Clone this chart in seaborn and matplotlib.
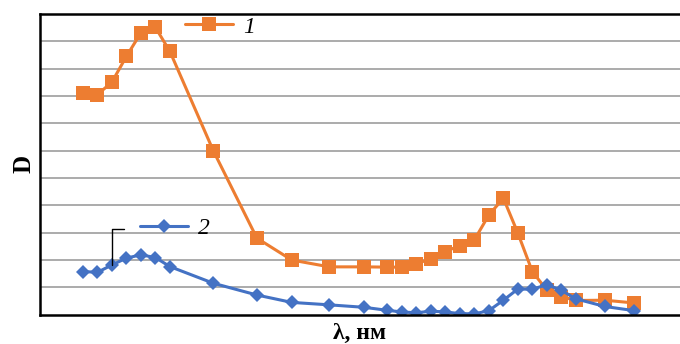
import matplotlib
matplotlib.use("Agg")
import matplotlib.pyplot as plt
import seaborn as sns
import pandas as pd

# wavelength, nm
wavelength = [400, 405, 410, 415, 420, 425, 430, 445, 460, 472, 485, 497, 505, 510,
              515, 520, 525, 530, 535, 540, 545, 550, 555, 560, 565, 570, 580, 590]
d_curve1 = [8.11, 8.05, 8.51, 9.45, 10.31, 10.51, 9.63, 5.99, 2.80, 2.00, 1.75, 1.75, 1.74, 1.74,
            1.86, 2.05, 2.31, 2.53, 2.74, 3.65, 4.26, 2.98, 1.57, 0.90, 0.66, 0.52, 0.53, 0.43]
d_curve2 = [1.58, 1.55, 1.82, 2.07, 2.19, 2.09, 1.76, 1.15, 0.72, 0.45, 0.36, 0.27, 0.16, 0.10,
            0.07, 0.13, 0.10, 0.04, 0.03, 0.15, 0.53, 0.94, 0.93, 1.10, 0.89, 0.58, 0.30, 0.15]

df1 = pd.DataFrame({"wl": wavelength, "D": d_curve1})
df2 = pd.DataFrame({"wl": wavelength, "D": d_curve2})

orange = "#ED7D31"
blue = "#4472C4"
grid_color = "#ababab"

sns.set_style("white")
plt.rcParams["font.family"] = ["Liberation Serif", "DejaVu Serif"]
plt.rcParams["text.color"] = "black"
plt.rcParams["axes.labelcolor"] = "black"

fig = plt.figure(figsize=(6.8, 3.44), dpi=100, facecolor="white")
ax = fig.add_axes([40 / 680, (344 - 314.7) / 344, 1 - 40 / 680, 300.7 / 344])

sns.lineplot(data=df1, x="wl", y="D", color=orange, lw=2.2, marker="s", markersize=10,
             markeredgewidth=0, ax=ax, label="1", legend=False)
sns.lineplot(data=df2, x="wl", y="D", color=blue, lw=2.2, marker="D", markersize=7,
             markeredgewidth=0, ax=ax, label="2", legend=False)

ax.set_ylim(0, 11)
ax.set_xlim(385.2, 605.9)
ax.set_yticks(range(1, 11))
ax.set_xticks([])
ax.tick_params(left=False, labelleft=False, bottom=False, labelbottom=False)
ax.yaxis.grid(True, color=grid_color, lw=1.4)
ax.set_axisbelow(True)

for side in ["left", "bottom", "top"]:
    ax.spines[side].set_color("black")
    ax.spines[side].set_linewidth(1.8)
ax.spines["right"].set_visible(False)

ax.set_xlabel("λ, нм", fontsize=17, fontweight="bold", labelpad=6)
ax.set_ylabel("D", fontsize=18, fontweight="bold", labelpad=3)

lines = ax.get_lines()
leg1 = ax.legend(handles=[lines[0]], labels=["1"], loc="center left",
                 bbox_to_anchor=(0.2266, 0.9568), frameon=False, borderpad=0,
                 borderaxespad=0, handlelength=2.05, handletextpad=0.4,
                 prop={"size": 17, "style": "italic"})
ax.add_artist(leg1)
ax.legend(handles=[lines[1]], labels=["2"], loc="center left",
          bbox_to_anchor=(0.156, 0.288), frameon=False, borderpad=0,
          borderaxespad=0, handlelength=2.05, handletextpad=0.4,
          prop={"size": 17, "style": "italic"})

# leader line from label 2 to the curve
ax.plot([0.113, 0.113, 0.132], [0.164, 0.286, 0.286], color="black", lw=1,
        transform=ax.transAxes, clip_on=False)

fig.savefig("out.png", dpi=100, facecolor="white")
